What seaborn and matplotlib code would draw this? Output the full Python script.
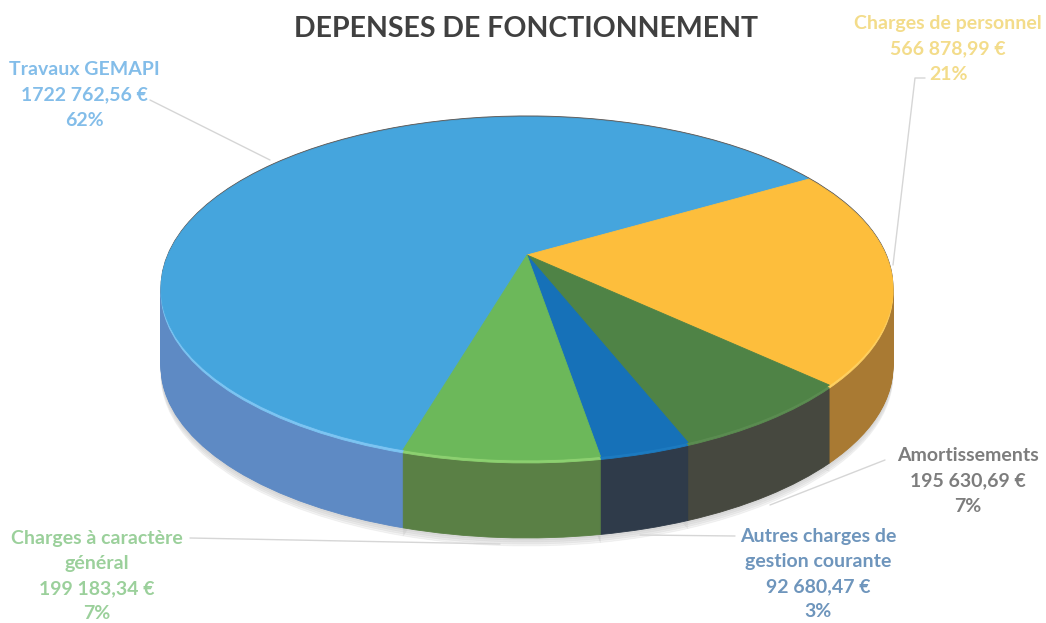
import numpy as np
import matplotlib
matplotlib.use("Agg")
import matplotlib.pyplot as plt
from matplotlib.transforms import Transform
import seaborn as sns

title = "DEPENSES DE FONCTIONNEMENT"
categories = ["Travaux GEMAPI", "Charges de personnel", "Amortissements",
              "Autres charges de\ngestion courante", "Charges à caractère\ngénéral"]
values = [1722762.56, 566878.99, 195630.69, 92680.47, 199183.34]
value_labels = ["1722 762,56 €", "566 878,99 €", "195 630,69 €", "92 680,47 €", "199 183,34 €"]
percent_labels = ["62%", "21%", "7%", "3%", "7%"]

top_colors = ["#45A5DD", "#FDBE3C", "#4F8346", "#1671B8", "#6CB85A"]
side_colors = ["#5E8AC4", "#A97A33", "#46483F", "#2F3B4A", "#5A8045"]
rim_colors = ["#7CC4F2", "#FFD060", "#5A8C50", "#1C7AC0", "#8CD070"]
label_colors = ["#83BDE9", "#F3DC8A", "#7D7D7D", "#6E95BC", "#9BD09B"]

label_xy = [(84, 95), (948, 49), (968, 481), (818, 574), (97, 576)]
leaders = [([150, 270], [100, 160]),
           ([925, 915, 893], [78, 78, 265]),
           ([885, 770], [460, 505]),
           ([735, 640], [536, 535]),
           ([190, 500], [538, 544])]

CX, CY, RX, RY, K = 527.0, 255.0, 359.0, 165.0, 0.195
DEPTH = 78


class Perspective(Transform):
    input_dims = 2
    output_dims = 2
    is_separable = False
    has_inverse = False

    def __init__(self, drop):
        super().__init__()
        self.drop = drop

    def transform_non_affine(self, values):
        u, v = np.asarray(values).T
        w = 1 + K * v
        return np.column_stack([CX + RX * u / w, CY + self.drop - RY * v / w])


sns.set_theme(style="white")
plt.rcParams["font.family"] = ["Lato", "DejaVu Sans"]

fig = plt.figure(figsize=(10.46, 6.23), dpi=100, facecolor="white")
ax = fig.add_axes([0, 0, 1, 1])


def layer(colors, drop, alpha=None):
    wedges, _ = ax.pie(values, colors=colors, startangle=253.7, counterclock=False)
    for wedge in wedges:
        wedge.set_edgecolor(wedge.get_facecolor())
        wedge.set_linewidth(0.6)
        if alpha is not None:
            wedge.set_alpha(alpha)
        wedge.set_transform(Perspective(drop) + ax.transData)


# soft shadow under the disc
for d in range(8, 0, -2):
    layer(["#B8B8B8"] * 5, DEPTH + d, alpha=0.16)
# side wall
for d in range(DEPTH, 2, -1):
    layer(side_colors, d)
# dark far rim, light near rim, then top face
layer(["#5A5A5A"] * 5, -1)
layer(rim_colors, 3)
layer(top_colors, 0)

ax.set_aspect("auto")
ax.set_xlim(0, 1046)
ax.set_ylim(623, 0)
ax.axis("off")

ax.text(526, 29, title, ha="center", va="center", fontsize=20.5, fontweight="bold", color="#404040")

for cat, val, pct, (x, y), col in zip(categories, value_labels, percent_labels, label_xy, label_colors):
    ax.text(x, y, f"{cat}\n{val}\n{pct}", ha="center", va="center", fontsize=14,
            fontweight="bold", color=col, linespacing=1.58)

for xs, ys in leaders:
    ax.plot(xs, ys, color="#D6D6D6", lw=1.0)

fig.savefig("out.png", dpi=100, facecolor="white")
